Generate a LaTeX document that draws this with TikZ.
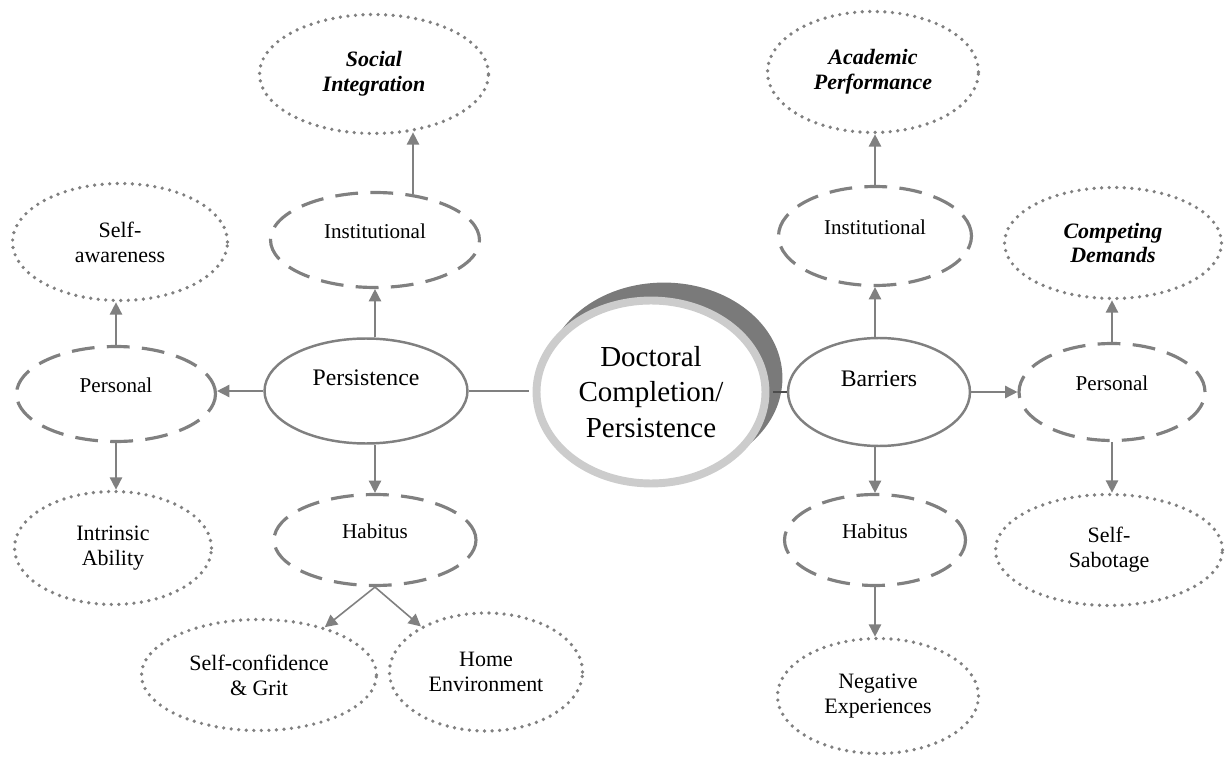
\documentclass[tikz,border=0pt]{standalone}
\usepackage{fontspec}
\setmainfont{Liberation Serif}
\usetikzlibrary{shapes.geometric, arrows.meta, calc}
\definecolor{linegray}{RGB}{128,128,128}
\definecolor{ringgray}{RGB}{204,204,204}
\definecolor{shadegray}{RGB}{122,122,122}

\begin{document}
\begin{tikzpicture}[x=0.02cm, y=-0.02cm,
  sz/.style 2 args={minimum width=#1*0.2mm, minimum height=#2*0.2mm},
  core/.style={ellipse, draw=ringgray, line width=4.5pt, fill=white, inner sep=0pt, align=center, font=\fontsize{16.5}{20}\selectfont, preaction={draw=shadegray, fill=shadegray, transform canvas={shift={(2.6mm,2.8mm)}}}},
  main/.style={ellipse, draw=linegray, line width=1.4pt, inner sep=0pt, font=\fontsize{13.5}{16}\selectfont, text height=9pt, text depth=15pt},
  mid/.style={ellipse, draw=linegray, line width=1.8pt, dash pattern=on 13pt off 7pt, inner sep=0pt, font=\fontsize{12}{14}\selectfont, text height=8.5pt, text depth=10pt},
  leaf/.style={ellipse, draw=linegray, line width=2.1pt, line cap=round, dash pattern=on 0pt off 4.3pt, inner sep=0pt, align=center, font=\fontsize{12.5}{14.2}\selectfont},
  keyleaf/.style={leaf, font=\fontsize{12.5}{14.2}\selectfont\bfseries\itshape},
  arr/.style={draw=linegray, line width=0.9pt, -{Triangle[length=7pt, width=7pt]}},
  link/.style={draw=linegray, line width=0.9pt}]
\useasboundingbox (0,0) rectangle (1225,757);

\node[core, sz={229}{183}] (core) at (651,392) {Doctoral\\Completion/\\Persistence};

% persistence side
\node[main, sz={203}{105}] (persist) at (366,391) {Persistence};
\node[mid, sz={209}{95}] (instL) at (375,240) {Institutional};
\node[keyleaf, sz={229}{119}] (social) at (374,74) {Social\\Integration};
\node[mid, sz={199}{95}] (persL) at (116,394) {Personal};
\node[leaf, sz={215}{117}] (aware) at (120,242) {Self-\\awareness};
\node[leaf, sz={197}{113}] (intrinsic) at (113,548) {Intrinsic\\Ability};
\node[mid, sz={202}{91}] (habL) at (375,540) {Habitus};
\node[leaf, sz={235}{111}] (grit) at (259,675) {Self-confidence\\\& Grit};
\node[leaf, sz={193}{118}] (home) at (486,672) {Home\\Environment};

% barriers side
\node[main, sz={182}{108}] (barr) at (879,392) {Barriers};
\node[mid, sz={193}{99}] (instR) at (875,236) {Institutional};
\node[keyleaf, sz={211}{121}] (academic) at (873,72) {Academic\\Performance};
\node[mid, sz={186}{97}] (persR) at (1112,392) {Personal};
\node[keyleaf, sz={217}{111}] (demands) at (1113,243) {Competing\\Demands};
\node[mid, sz={181}{91}] (habR) at (875,540) {Habitus};
\node[leaf, sz={227}{111}] (sabotage) at (1109,550) {Self-\\Sabotage};
\node[leaf, sz={201}{115}] (negative) at (878,696) {Negative\\Experiences};

\draw[link, shorten >=2.3pt] (persist.east) -- (persist.east -| core.west);
\draw[link, draw=black!70, shorten <=2.3pt] (core.east) -- (barr.west);

\draw[arr] (persist.north -| instL.south) -- (instL.south);
\draw[arr] ($(instL.north)+(38,3)$) -- ($(social.south)+(39,-3)$);
\draw[arr] (persist.west) -- (persist.west -| persL.east);
\draw[arr] (persL.north) -- (persL.north |- aware.south);
\draw[arr] (persL.south) -- (persL.south |- intrinsic.north);
\draw[arr] (persist.south -| habL.north) -- (habL.north);
\draw[arr] (habL.south) -- (grit.36);
\draw[arr] (habL.south) -- (home.145);

\draw[arr] (barr.north -| instR.south) -- (instR.south);
\draw[arr] (instR.north) -- (instR.north |- academic.south);
\draw[arr] (barr.east) -- (barr.east -| persR.west);
\draw[arr] (persR.north) -- (persR.north |- demands.south);
\draw[arr] (barr.south -| habR.north) -- (habR.north);
\draw[arr] (persR.south) -- (persR.south |- sabotage.north);
\draw[arr] (habR.south) -- (habR.south |- negative.north);
\end{tikzpicture}
\end{document}
